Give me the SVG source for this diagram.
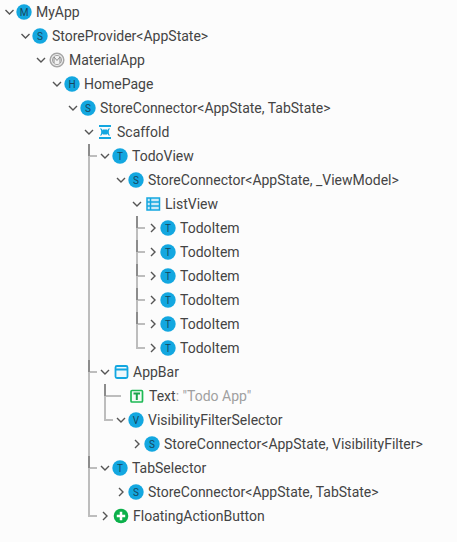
<svg xmlns="http://www.w3.org/2000/svg" width="457" height="542" viewBox="0 0 457 542">
<defs>
<style>
text{font-family:Roboto,"Liberation Sans",sans-serif;font-size:14px;fill:#444}
.i{font-size:10px;text-anchor:middle;fill:#17465c}
.d{fill:#a0a0a0}
.c{fill:none;stroke:#555;stroke-width:1.400}
.b{fill:#13a7e0}
.l{fill:none;stroke:#bdbdbd;stroke-width:2}
.k{fill:none;stroke:#8c8c8c;stroke-width:2}
.s{fill:none;stroke:#13a7e0;stroke-width:1.500}
</style>
<path id="dn" class="c" d="M-4-2 0 2 4-2"/>
<path id="rt" class="c" d="M-2-4 2 0-2 4"/>
</defs>
<rect width="457" height="542" fill="#fcfcfc"/>
<g id="connectors">
<path class="l" d="M89 144V516M88 156H97M88 372H97M88 468H97M88 516H97"/>
<path class="k" d="M89 144V156M89 360V372M89 456V468"/>
<path class="l" d="M137 216V348M136 228H145M136 252H145M136 276H145M136 300H145M136 324H145M136 348H145"/>
<path class="k" d="M137 216V228M137 240V252M137 264V276M137 288V300M137 312V324"/>
<path class="l" d="M105 384V420M104 396H121M104 420H113"/>
<path class="k" d="M105 384V396"/>
</g>
<g id="n0"><use href="#dn" x="9.500" y="12"/><circle class="b" cx="24" cy="12" r="7.700"/><text class="i" x="24" y="15.500">M</text><text x="36" y="17">MyApp</text></g>
<g id="n1"><use href="#dn" x="25.500" y="36"/><circle class="b" cx="40" cy="36" r="7.700"/><text class="i" x="40" y="39.500">S</text><text x="52" y="41">StoreProvider&lt;AppState&gt;</text></g>
<g id="n2"><use href="#dn" x="41" y="60"/><circle cx="57" cy="60" r="6.800" fill="#f2f2f2" stroke="#a6a6a6" stroke-width="1.500"/><circle cx="57" cy="60" r="4.600" fill="none" stroke="#a6a6a6" stroke-width="1"/><path d="M54 63V57L57 60.500 60 57V63" fill="none" stroke="#8a8a8a" stroke-width="1"/><text x="69" y="65">MaterialApp</text></g>
<g id="n3"><use href="#dn" x="57" y="84"/><circle class="b" cx="72" cy="84" r="7.700"/><text class="i" x="72" y="87.500">H</text><text x="84" y="89">HomePage</text></g>
<g id="n4"><use href="#dn" x="73" y="108"/><circle class="b" cx="88" cy="108" r="7.700"/><text class="i" x="88" y="111.500">S</text><text x="100" y="113">StoreConnector&lt;AppState, TabState&gt;</text></g>
<g id="n5"><use href="#dn" x="89" y="132"/><path d="M99 126H111M99 138H111" stroke="#13a7e0" stroke-width="2" fill="none"/><path d="M100.500 128.500C103 130 103 134 100.500 135.500M109.500 128.500C107 130 107 134 109.500 135.500M101 131H109M101 133H109" stroke="#13a7e0" stroke-width="1.300" fill="none"/><path d="M103 129.500H107V134.500H103Z" fill="#13a7e0"/><text x="117" y="137">Scaffold</text></g>
<g id="n6"><use href="#dn" x="105" y="156"/><circle class="b" cx="120" cy="156" r="7.700"/><text class="i" x="120" y="159.500">T</text><text x="132" y="161">TodoView</text></g>
<g id="n7"><use href="#dn" x="121" y="180"/><circle class="b" cx="136" cy="180" r="7.700"/><text class="i" x="136" y="183.500">S</text><text x="148" y="185">StoreConnector&lt;AppState, _ViewModel&gt;</text></g>
<g id="n8"><use href="#dn" x="137" y="204"/><rect x="147" y="198" width="12.500" height="12" fill="#cdeaf7" stroke="#13a7e0" stroke-width="1.500"/><path d="M147 202H159.500M147 206H159.500M150.500 198V210" stroke="#13a7e0" stroke-width="1.500"/><text x="165" y="209">ListView</text></g>
<g id="n9"><use href="#rt" x="153" y="228"/><circle class="b" cx="168" cy="228" r="7.700"/><text class="i" x="168" y="231.500">T</text><text x="180" y="233">TodoItem</text></g>
<g id="n10"><use href="#rt" x="153" y="252"/><circle class="b" cx="168" cy="252" r="7.700"/><text class="i" x="168" y="255.500">T</text><text x="180" y="257">TodoItem</text></g>
<g id="n11"><use href="#rt" x="153" y="276"/><circle class="b" cx="168" cy="276" r="7.700"/><text class="i" x="168" y="279.500">T</text><text x="180" y="281">TodoItem</text></g>
<g id="n12"><use href="#rt" x="153" y="300"/><circle class="b" cx="168" cy="300" r="7.700"/><text class="i" x="168" y="303.500">T</text><text x="180" y="305">TodoItem</text></g>
<g id="n13"><use href="#rt" x="153" y="324"/><circle class="b" cx="168" cy="324" r="7.700"/><text class="i" x="168" y="327.500">T</text><text x="180" y="329">TodoItem</text></g>
<g id="n14"><use href="#rt" x="153" y="348"/><circle class="b" cx="168" cy="348" r="7.700"/><text class="i" x="168" y="351.500">T</text><text x="180" y="353">TodoItem</text></g>
<g id="n15"><use href="#dn" x="105" y="372"/><rect x="115.500" y="366" width="12" height="12" rx="1.500" fill="#eef8fc" stroke="#13a7e0" stroke-width="1.800"/><path d="M116 369.500H127" stroke="#13a7e0" stroke-width="2"/><text x="133" y="377">AppBar</text></g>
<g id="n16"><rect x="131" y="390.500" width="11.500" height="11.500" rx="1" fill="#f4fbf6" stroke="#1db954" stroke-width="1.700"/><path d="M133.500 393.500H140M136.800 393.500V400" stroke="#1aa34a" stroke-width="2" fill="none"/><text x="149" y="401">Text<tspan class="d">: "Todo App"</tspan></text></g>
<g id="n17"><use href="#dn" x="121" y="420"/><circle class="b" cx="136" cy="420" r="7.700"/><text class="i" x="136" y="423.500">V</text><text x="148" y="425">VisibilityFilterSelector</text></g>
<g id="n18"><use href="#rt" x="137" y="444"/><circle class="b" cx="152" cy="444" r="7.700"/><text class="i" x="152" y="447.500">S</text><text x="164" y="449">StoreConnector&lt;AppState, VisibilityFilter&gt;</text></g>
<g id="n19"><use href="#dn" x="105" y="468"/><circle class="b" cx="120" cy="468" r="7.700"/><text class="i" x="120" y="471.500">T</text><text x="132" y="473">TabSelector</text></g>
<g id="n20"><use href="#rt" x="121" y="492"/><circle class="b" cx="136" cy="492" r="7.700"/><text class="i" x="136" y="495.500">S</text><text x="148" y="497">StoreConnector&lt;AppState, TabState&gt;</text></g>
<g id="n21"><use href="#rt" x="105" y="516"/><circle cx="121" cy="516" r="7.300" fill="#0bb04a"/><path d="M116.800 516H125.200M121 511.800V520.200" stroke="#fff" stroke-width="2.500"/><text x="133" y="521">FloatingActionButton</text></g>
</svg>
